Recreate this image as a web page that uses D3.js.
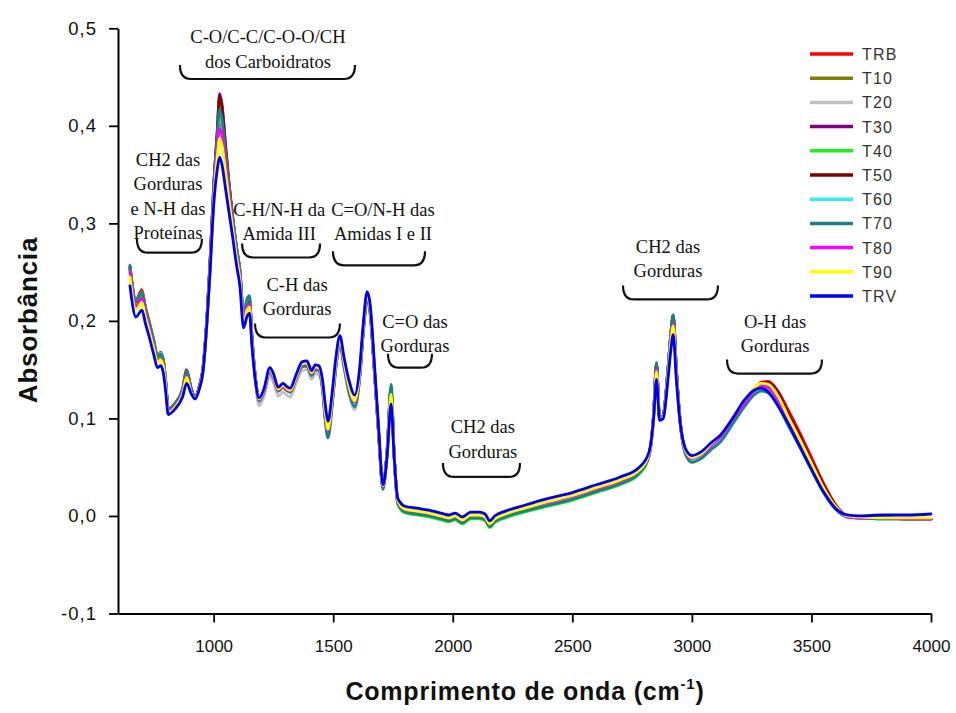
<!DOCTYPE html>
<html>
<head>
<meta charset="utf-8">
<script src="https://cdn.jsdelivr.net/npm/d3@7"></script>
<style>
  body { margin: 0; background: #ffffff; }
  svg { display: block; }
</style>
</head>
<body>
<svg id="chart" width="956" height="713"></svg>
<script>
// FTIR spectra: absorbance vs wavenumber (cm-1) for eleven samples
const wavenumber = [
  650, 675, 700, 715, 730, 750, 765, 778, 790, 800,
  810, 840, 870, 887, 905, 922, 940, 955, 972, 985,
  1000, 1015, 1025, 1035, 1050, 1065, 1080, 1095, 1110, 1125,
  1140, 1150, 1160, 1175, 1190, 1210, 1235, 1250, 1270, 1290,
  1305, 1320, 1345, 1370, 1390, 1410, 1425, 1440, 1455, 1468,
  1478, 1495, 1510, 1528, 1545, 1565, 1590, 1610, 1625, 1642,
  1655, 1670, 1690, 1708, 1725, 1742, 1755, 1770, 1800, 1850,
  1900, 1950, 1985, 2010, 2040, 2075, 2110, 2135, 2155, 2175,
  2220, 2300, 2400, 2500, 2600, 2700, 2780, 2820, 2840, 2852,
  2865, 2880, 2900, 2912, 2922, 2935, 2950, 2975, 3000, 3040,
  3080, 3120, 3170, 3220, 3260, 3290, 3320, 3360, 3400, 3450,
  3500, 3550, 3600, 3650, 3700, 3800, 3900, 4000
];

const TRB = [
  0.257, 0.222, 0.232, 0.214, 0.200, 0.180, 0.164, 0.168, 0.160, 0.138,
  0.110, 0.116, 0.130, 0.150, 0.132, 0.122, 0.133, 0.150, 0.202, 0.258,
  0.330, 0.380, 0.405, 0.398, 0.365, 0.330, 0.300, 0.272, 0.248, 0.203,
  0.216, 0.220, 0.182, 0.140, 0.118, 0.127, 0.148, 0.142, 0.128, 0.132,
  0.129, 0.127, 0.141, 0.154, 0.155, 0.144, 0.151, 0.150, 0.133, 0.100,
  0.085, 0.115, 0.152, 0.178, 0.156, 0.131, 0.115, 0.142, 0.188, 0.224,
  0.209, 0.158, 0.085, 0.030, 0.065, 0.130, 0.062, 0.015, 0.006, 0.004,
  0.002, -0.001, -0.004, -0.002, -0.006, -0.001, -0.001, -0.003, -0.010, -0.005,
  0.000, 0.006, 0.013, 0.019, 0.027, 0.035, 0.046, 0.062, 0.105, 0.157,
  0.100, 0.103, 0.150, 0.185, 0.203, 0.150, 0.100, 0.066, 0.058, 0.062,
  0.072, 0.081, 0.099, 0.117, 0.130, 0.137, 0.138, 0.128, 0.110, 0.086,
  0.060, 0.034, 0.012, 0.000, -0.002, -0.002, -0.003, -0.003
];
const T10 = [
  0.253, 0.218, 0.226, 0.210, 0.196, 0.176, 0.161, 0.164, 0.157, 0.135,
  0.108, 0.114, 0.128, 0.146, 0.130, 0.121, 0.132, 0.149, 0.201, 0.256,
  0.330, 0.385, 0.421, 0.410, 0.372, 0.334, 0.302, 0.273, 0.249, 0.204,
  0.218, 0.221, 0.183, 0.140, 0.118, 0.127, 0.148, 0.142, 0.128, 0.132,
  0.129, 0.127, 0.141, 0.153, 0.154, 0.144, 0.150, 0.149, 0.132, 0.098,
  0.083, 0.114, 0.151, 0.177, 0.155, 0.130, 0.114, 0.141, 0.187, 0.223,
  0.208, 0.157, 0.084, 0.029, 0.064, 0.128, 0.061, 0.014, 0.005, 0.003,
  0.001, -0.002, -0.004, -0.002, -0.006, -0.001, -0.001, -0.003, -0.010, -0.005,
  0.000, 0.006, 0.013, 0.019, 0.027, 0.035, 0.045, 0.061, 0.103, 0.153,
  0.099, 0.102, 0.149, 0.184, 0.202, 0.149, 0.099, 0.064, 0.057, 0.061,
  0.071, 0.079, 0.097, 0.115, 0.128, 0.134, 0.133, 0.121, 0.101, 0.077,
  0.052, 0.028, 0.009, -0.001, -0.002, -0.002, -0.003, -0.003
];
const T20 = [
  0.252, 0.217, 0.225, 0.209, 0.195, 0.175, 0.160, 0.163, 0.156, 0.134,
  0.107, 0.113, 0.127, 0.145, 0.129, 0.120, 0.131, 0.148, 0.200, 0.255,
  0.328, 0.382, 0.414, 0.405, 0.369, 0.332, 0.300, 0.271, 0.247, 0.200,
  0.214, 0.217, 0.179, 0.136, 0.113, 0.122, 0.143, 0.137, 0.123, 0.127,
  0.124, 0.122, 0.136, 0.149, 0.150, 0.140, 0.146, 0.145, 0.128, 0.094,
  0.080, 0.110, 0.147, 0.173, 0.151, 0.126, 0.109, 0.137, 0.183, 0.219,
  0.204, 0.154, 0.082, 0.028, 0.063, 0.127, 0.060, 0.014, 0.005, 0.003,
  0.001, -0.002, -0.004, -0.002, -0.006, -0.001, -0.001, -0.003, -0.010, -0.005,
  0.000, 0.006, 0.012, 0.018, 0.026, 0.034, 0.044, 0.060, 0.102, 0.152,
  0.098, 0.101, 0.148, 0.183, 0.201, 0.148, 0.098, 0.063, 0.056, 0.060,
  0.070, 0.078, 0.096, 0.114, 0.127, 0.132, 0.130, 0.118, 0.098, 0.074,
  0.049, 0.026, 0.008, -0.001, -0.002, -0.003, -0.003, -0.003
];
const T30 = [
  0.255, 0.220, 0.229, 0.212, 0.198, 0.178, 0.162, 0.165, 0.158, 0.136,
  0.109, 0.115, 0.129, 0.147, 0.131, 0.122, 0.133, 0.151, 0.204, 0.262,
  0.338, 0.395, 0.433, 0.422, 0.380, 0.340, 0.306, 0.276, 0.251, 0.205,
  0.219, 0.222, 0.184, 0.141, 0.119, 0.128, 0.149, 0.143, 0.129, 0.133,
  0.130, 0.128, 0.142, 0.154, 0.155, 0.145, 0.151, 0.150, 0.133, 0.099,
  0.084, 0.115, 0.152, 0.178, 0.156, 0.131, 0.115, 0.142, 0.188, 0.224,
  0.209, 0.158, 0.085, 0.030, 0.065, 0.129, 0.062, 0.015, 0.006, 0.004,
  0.002, -0.001, -0.003, -0.001, -0.005, 0.000, 0.000, -0.002, -0.009, -0.004,
  0.001, 0.007, 0.014, 0.020, 0.028, 0.036, 0.046, 0.062, 0.104, 0.156,
  0.100, 0.103, 0.151, 0.187, 0.206, 0.151, 0.100, 0.065, 0.058, 0.062,
  0.072, 0.080, 0.098, 0.116, 0.129, 0.134, 0.132, 0.120, 0.100, 0.076,
  0.051, 0.027, 0.009, -0.001, -0.002, -0.002, -0.003, -0.003
];
const T40 = [
  0.253, 0.218, 0.227, 0.211, 0.197, 0.177, 0.161, 0.164, 0.157, 0.135,
  0.108, 0.114, 0.128, 0.146, 0.130, 0.121, 0.132, 0.150, 0.203, 0.260,
  0.335, 0.390, 0.426, 0.415, 0.376, 0.337, 0.304, 0.275, 0.250, 0.205,
  0.220, 0.223, 0.184, 0.140, 0.118, 0.127, 0.148, 0.142, 0.128, 0.132,
  0.129, 0.127, 0.141, 0.153, 0.154, 0.144, 0.150, 0.149, 0.131, 0.097,
  0.083, 0.114, 0.151, 0.177, 0.155, 0.129, 0.113, 0.141, 0.187, 0.223,
  0.208, 0.157, 0.084, 0.028, 0.065, 0.133, 0.061, 0.012, 0.003, 0.001,
  -0.001, -0.004, -0.006, -0.004, -0.008, -0.003, -0.003, -0.005, -0.012, -0.007,
  -0.002, 0.004, 0.010, 0.016, 0.024, 0.032, 0.043, 0.060, 0.103, 0.154,
  0.099, 0.102, 0.149, 0.185, 0.203, 0.149, 0.099, 0.063, 0.056, 0.060,
  0.070, 0.078, 0.096, 0.114, 0.127, 0.130, 0.128, 0.117, 0.098, 0.074,
  0.049, 0.026, 0.008, -0.001, -0.002, -0.003, -0.003, -0.003
];
const T50 = [
  0.255, 0.220, 0.229, 0.212, 0.198, 0.178, 0.163, 0.166, 0.158, 0.136,
  0.109, 0.115, 0.129, 0.148, 0.131, 0.122, 0.133, 0.151, 0.204, 0.261,
  0.337, 0.393, 0.430, 0.419, 0.378, 0.339, 0.305, 0.276, 0.251, 0.205,
  0.219, 0.222, 0.184, 0.141, 0.119, 0.128, 0.149, 0.143, 0.129, 0.133,
  0.130, 0.128, 0.142, 0.154, 0.155, 0.145, 0.151, 0.150, 0.133, 0.099,
  0.084, 0.115, 0.152, 0.178, 0.156, 0.131, 0.115, 0.142, 0.188, 0.224,
  0.209, 0.158, 0.085, 0.030, 0.065, 0.131, 0.062, 0.015, 0.006, 0.004,
  0.002, -0.001, -0.003, -0.001, -0.005, 0.000, 0.000, -0.002, -0.009, -0.004,
  0.001, 0.007, 0.014, 0.020, 0.028, 0.036, 0.046, 0.062, 0.105, 0.157,
  0.100, 0.103, 0.151, 0.187, 0.206, 0.151, 0.100, 0.065, 0.058, 0.062,
  0.072, 0.080, 0.098, 0.117, 0.130, 0.136, 0.137, 0.127, 0.107, 0.083,
  0.057, 0.032, 0.011, 0.000, -0.002, -0.002, -0.003, -0.003
];
const T60 = [
  0.256, 0.221, 0.230, 0.213, 0.199, 0.179, 0.163, 0.167, 0.159, 0.137,
  0.109, 0.115, 0.129, 0.147, 0.131, 0.122, 0.132, 0.149, 0.201, 0.257,
  0.331, 0.383, 0.410, 0.401, 0.368, 0.333, 0.303, 0.275, 0.251, 0.206,
  0.222, 0.225, 0.185, 0.141, 0.119, 0.128, 0.149, 0.143, 0.129, 0.133,
  0.130, 0.128, 0.142, 0.154, 0.155, 0.145, 0.151, 0.150, 0.133, 0.099,
  0.084, 0.115, 0.152, 0.178, 0.156, 0.131, 0.115, 0.142, 0.188, 0.224,
  0.209, 0.158, 0.085, 0.030, 0.064, 0.126, 0.061, 0.015, 0.006, 0.004,
  0.002, -0.001, -0.003, -0.001, -0.005, 0.000, 0.000, -0.002, -0.009, -0.004,
  0.001, 0.007, 0.013, 0.019, 0.027, 0.035, 0.045, 0.061, 0.103, 0.154,
  0.099, 0.102, 0.150, 0.185, 0.203, 0.150, 0.099, 0.064, 0.057, 0.061,
  0.070, 0.078, 0.096, 0.114, 0.126, 0.129, 0.127, 0.115, 0.096, 0.073,
  0.048, 0.025, 0.007, -0.001, -0.002, -0.003, -0.003, -0.003
];
const T70 = [
  0.256, 0.221, 0.230, 0.213, 0.199, 0.179, 0.163, 0.166, 0.159, 0.137,
  0.110, 0.116, 0.130, 0.149, 0.132, 0.122, 0.133, 0.150, 0.202, 0.259,
  0.334, 0.388, 0.417, 0.407, 0.372, 0.336, 0.305, 0.276, 0.252, 0.207,
  0.223, 0.226, 0.186, 0.141, 0.118, 0.127, 0.148, 0.142, 0.128, 0.132,
  0.129, 0.127, 0.141, 0.153, 0.154, 0.144, 0.150, 0.149, 0.131, 0.096,
  0.080, 0.113, 0.150, 0.176, 0.154, 0.128, 0.112, 0.140, 0.186, 0.222,
  0.207, 0.156, 0.083, 0.027, 0.066, 0.135, 0.062, 0.013, 0.004, 0.002,
  0.000, -0.003, -0.005, -0.003, -0.007, -0.002, -0.002, -0.004, -0.011, -0.006,
  -0.001, 0.005, 0.011, 0.017, 0.025, 0.033, 0.044, 0.061, 0.105, 0.157,
  0.100, 0.103, 0.151, 0.187, 0.206, 0.150, 0.098, 0.062, 0.055, 0.059,
  0.068, 0.076, 0.094, 0.112, 0.124, 0.128, 0.126, 0.113, 0.094, 0.071,
  0.047, 0.024, 0.007, -0.001, -0.002, -0.003, -0.003, -0.003
];
const T80 = [
  0.250, 0.215, 0.223, 0.207, 0.193, 0.173, 0.158, 0.161, 0.154, 0.133,
  0.107, 0.113, 0.126, 0.143, 0.128, 0.121, 0.131, 0.148, 0.200, 0.255,
  0.326, 0.377, 0.397, 0.390, 0.361, 0.328, 0.297, 0.269, 0.245, 0.200,
  0.214, 0.217, 0.181, 0.140, 0.119, 0.128, 0.149, 0.143, 0.129, 0.133,
  0.130, 0.128, 0.142, 0.155, 0.156, 0.146, 0.152, 0.151, 0.135, 0.102,
  0.088, 0.118, 0.154, 0.180, 0.158, 0.133, 0.117, 0.144, 0.190, 0.226,
  0.211, 0.160, 0.086, 0.030, 0.062, 0.120, 0.060, 0.016, 0.007, 0.005,
  0.003, 0.000, -0.002, 0.000, -0.004, 0.001, 0.001, -0.001, -0.008, -0.003,
  0.002, 0.008, 0.014, 0.020, 0.028, 0.036, 0.047, 0.062, 0.102, 0.150,
  0.099, 0.101, 0.146, 0.180, 0.197, 0.146, 0.099, 0.066, 0.059, 0.063,
  0.072, 0.081, 0.099, 0.116, 0.128, 0.134, 0.132, 0.119, 0.100, 0.076,
  0.051, 0.027, 0.009, -0.001, -0.002, -0.002, -0.003, -0.003
];
const T90 = [
  0.245, 0.211, 0.219, 0.204, 0.190, 0.171, 0.157, 0.160, 0.153, 0.132,
  0.106, 0.112, 0.125, 0.142, 0.127, 0.121, 0.131, 0.148, 0.199, 0.253,
  0.322, 0.368, 0.387, 0.380, 0.352, 0.322, 0.294, 0.266, 0.242, 0.198,
  0.211, 0.214, 0.179, 0.139, 0.120, 0.129, 0.150, 0.144, 0.130, 0.134,
  0.131, 0.129, 0.143, 0.156, 0.157, 0.147, 0.153, 0.152, 0.136, 0.104,
  0.089, 0.119, 0.155, 0.181, 0.159, 0.134, 0.118, 0.145, 0.191, 0.227,
  0.212, 0.161, 0.087, 0.031, 0.062, 0.125, 0.060, 0.016, 0.007, 0.005,
  0.003, 0.000, -0.002, 0.000, -0.004, 0.001, 0.001, -0.001, -0.008, -0.003,
  0.002, 0.008, 0.015, 0.021, 0.029, 0.037, 0.047, 0.063, 0.102, 0.148,
  0.099, 0.101, 0.145, 0.178, 0.195, 0.145, 0.099, 0.066, 0.060, 0.064,
  0.074, 0.083, 0.101, 0.119, 0.131, 0.136, 0.135, 0.123, 0.103, 0.079,
  0.054, 0.029, 0.010, 0.000, -0.001, -0.002, -0.002, -0.002
];
const TRV = [
  0.236, 0.204, 0.211, 0.197, 0.184, 0.165, 0.152, 0.154, 0.146, 0.126,
  0.104, 0.110, 0.122, 0.136, 0.126, 0.120, 0.130, 0.147, 0.198, 0.250,
  0.318, 0.355, 0.368, 0.360, 0.335, 0.310, 0.285, 0.258, 0.235, 0.193,
  0.205, 0.208, 0.175, 0.138, 0.121, 0.130, 0.152, 0.146, 0.132, 0.136,
  0.133, 0.131, 0.145, 0.158, 0.159, 0.149, 0.155, 0.154, 0.140, 0.112,
  0.097, 0.125, 0.160, 0.185, 0.163, 0.140, 0.124, 0.150, 0.195, 0.230,
  0.216, 0.165, 0.090, 0.032, 0.060, 0.115, 0.060, 0.018, 0.010, 0.008,
  0.006, 0.003, 0.001, 0.003, -0.001, 0.004, 0.004, 0.002, -0.005, 0.000,
  0.005, 0.011, 0.018, 0.024, 0.032, 0.040, 0.050, 0.065, 0.100, 0.140,
  0.098, 0.100, 0.140, 0.170, 0.186, 0.140, 0.098, 0.068, 0.062, 0.066,
  0.075, 0.083, 0.100, 0.119, 0.129, 0.131, 0.127, 0.113, 0.096, 0.072,
  0.048, 0.025, 0.008, 0.001, 0.000, 0.001, 0.001, 0.002
];

const seriesNames  = ["TRB", "T10", "T20", "T30", "T40", "T50", "T60", "T70", "T80", "T90", "TRV"];
const seriesValues = [TRB, T10, T20, T30, T40, T50, T60, T70, T80, T90, TRV];
const seriesColors = ["#ff0000", "#808000", "#c0c0c0", "#800080", "#22ee22", "#800000",
                      "#33eeee", "#208080", "#ff00ff", "#ffff00", "#0000ee"];

const xTicks = [1000, 1500, 2000, 2500, 3000, 3500, 4000];
const yTicks = [-0.1, 0.0, 0.1, 0.2, 0.3, 0.4, 0.5];

// Band assignments: bracket span (cm-1), bracket level and first text line level (absorbance)
const bands = [
  { lines: ["C-O/C-C/C-O-O/CH", "dos Carboidratos"], from: 859, to: 1591, level: 0.448, textAt: 1227, textLevel: 0.491 },
  { lines: ["CH2 das", "Gorduras", "e N-H das", "Proteínas"], from: 679, to: 951, level: 0.270, textAt: 809, textLevel: 0.365 },
  { lines: ["C-H/N-H da", "Amida III"], from: 1119, to: 1445, level: 0.265, textAt: 1274, textLevel: 0.314 },
  { lines: ["C=O/N-H das", "Amidas I e II"], from: 1499, to: 1884, level: 0.257, textAt: 1708, textLevel: 0.314 },
  { lines: ["C-H das", "Gorduras"], from: 1173, to: 1528, level: 0.183, textAt: 1349, textLevel: 0.237 },
  { lines: ["C=O das", "Gorduras"], from: 1729, to: 1913, level: 0.152, textAt: 1842, textLevel: 0.199 },
  { lines: ["CH2 das", "Gorduras"], from: 1959, to: 2281, level: 0.040, textAt: 2126, textLevel: 0.091 },
  { lines: ["CH2 das", "Gorduras"], from: 2712, to: 3109, level: 0.222, textAt: 2900, textLevel: 0.276 },
  { lines: ["O-H das", "Gorduras"], from: 3147, to: 3544, level: 0.146, textAt: 3348, textLevel: 0.199 }
];

const svg = d3.select("#chart");
const x = d3.scaleLinear().domain([600, 4000]).range([118, 931]);
const y = d3.scaleLinear().domain([-0.1, 0.5]).range([613.5, 28.3]);

const ptBR = d3.formatLocale({ decimal: ",", thousands: ".", grouping: [3], currency: ["R$", ""], minus: "-" });
const fmtY = ptBR.format(".1f");

// Spectra (TRV last so it sits on top)
const line = d3.line()
  .x((d, i) => x(wavenumber[i]))
  .y(d => y(d))
  .curve(d3.curveMonotoneX);

svg.append("g")
  .selectAll("path")
  .data(seriesValues)
  .join("path")
  .attr("d", d => line(d))
  .attr("fill", "none")
  .attr("stroke", (d, i) => seriesColors[i])
  .attr("stroke-width", 2.8)
  .attr("stroke-linejoin", "round")
  .attr("stroke-linecap", "round");

// Axes
const yAxisG = svg.append("g")
  .attr("transform", `translate(${x(600)},0)`)
  .call(d3.axisLeft(y).tickValues(yTicks).tickSize(9).tickSizeOuter(0).tickPadding(12).tickFormat(fmtY));

const xAxisG = svg.append("g")
  .attr("transform", `translate(0,${y(-0.1)})`)
  .call(d3.axisBottom(x).tickValues(xTicks).tickSize(9).tickSizeOuter(0).tickPadding(17).tickFormat(d3.format("d")));

[yAxisG, xAxisG].forEach(g => {
  g.select(".domain").attr("stroke", "#000").attr("stroke-width", 2);
  g.selectAll(".tick line").attr("stroke", "#000").attr("stroke-width", 1.8);
  g.selectAll(".tick text")
    .attr("fill", "#111")
    .style("font-family", "Arial, 'Liberation Sans', sans-serif");
});
yAxisG.selectAll(".tick text").style("font-size", "18.5px").style("letter-spacing", "1px");
xAxisG.selectAll(".tick text").style("font-size", "17px");

// Axis titles
svg.append("text")
  .attr("transform", "translate(37,320) rotate(-90)")
  .attr("text-anchor", "middle")
  .style("font-family", "Arial, 'Liberation Sans', sans-serif")
  .style("font-weight", "bold")
  .style("font-size", "26px")
  .style("letter-spacing", "0.8px")
  .attr("fill", "#111")
  .text("Absorbância");

const xTitle = svg.append("text")
  .attr("x", 525)
  .attr("y", 700)
  .attr("text-anchor", "middle")
  .style("font-family", "Arial, 'Liberation Sans', sans-serif")
  .style("font-weight", "bold")
  .style("font-size", "25px")
  .style("letter-spacing", "0.8px")
  .attr("fill", "#111");
xTitle.append("tspan").text("Comprimento de onda (cm");
xTitle.append("tspan").attr("dy", -11).style("font-size", "15px").text("-1");
xTitle.append("tspan").attr("dy", 11).text(")");

// Band annotations with brackets
const lineGap = 24.5;
const bandG = svg.append("g");
bands.forEach(b => {
  const x0 = x(b.from), x1 = x(b.to), yb = y(b.level);
  const h = 14, r = 11;
  bandG.append("path")
    .attr("d", `M${x0},${yb - h} Q${x0},${yb} ${x0 + r},${yb} L${x1 - r},${yb} Q${x1},${yb} ${x1},${yb - h}`)
    .attr("fill", "none")
    .attr("stroke", "#111")
    .attr("stroke-width", 2.2);
  const t = bandG.append("text")
    .attr("text-anchor", "middle")
    .style("font-family", "'Liberation Serif', 'Times New Roman', serif")
    .style("font-size", "18.5px")
    .attr("fill", "#111");
  b.lines.forEach((s, i) => {
    t.append("tspan")
      .attr("x", x(b.textAt))
      .attr("y", y(b.textLevel) + 6 + i * lineGap)
      .text(s);
  });
});

// Legend
const legend = svg.append("g").attr("transform", "translate(810,54)");
seriesNames.forEach((name, i) => {
  const row = legend.append("g").attr("transform", `translate(0,${i * 24.2})`);
  row.append("line")
    .attr("x1", 0).attr("x2", 43)
    .attr("y1", 0).attr("y2", 0)
    .attr("stroke", seriesColors[i])
    .attr("stroke-width", 3.5);
  row.append("text")
    .attr("x", 52)
    .attr("y", 6)
    .style("font-family", "Arial, 'Liberation Sans', sans-serif")
    .style("font-size", "16px")
    .style("letter-spacing", "1.2px")
    .attr("fill", "#333")
    .text(name);
});
</script>
</body>
</html>
